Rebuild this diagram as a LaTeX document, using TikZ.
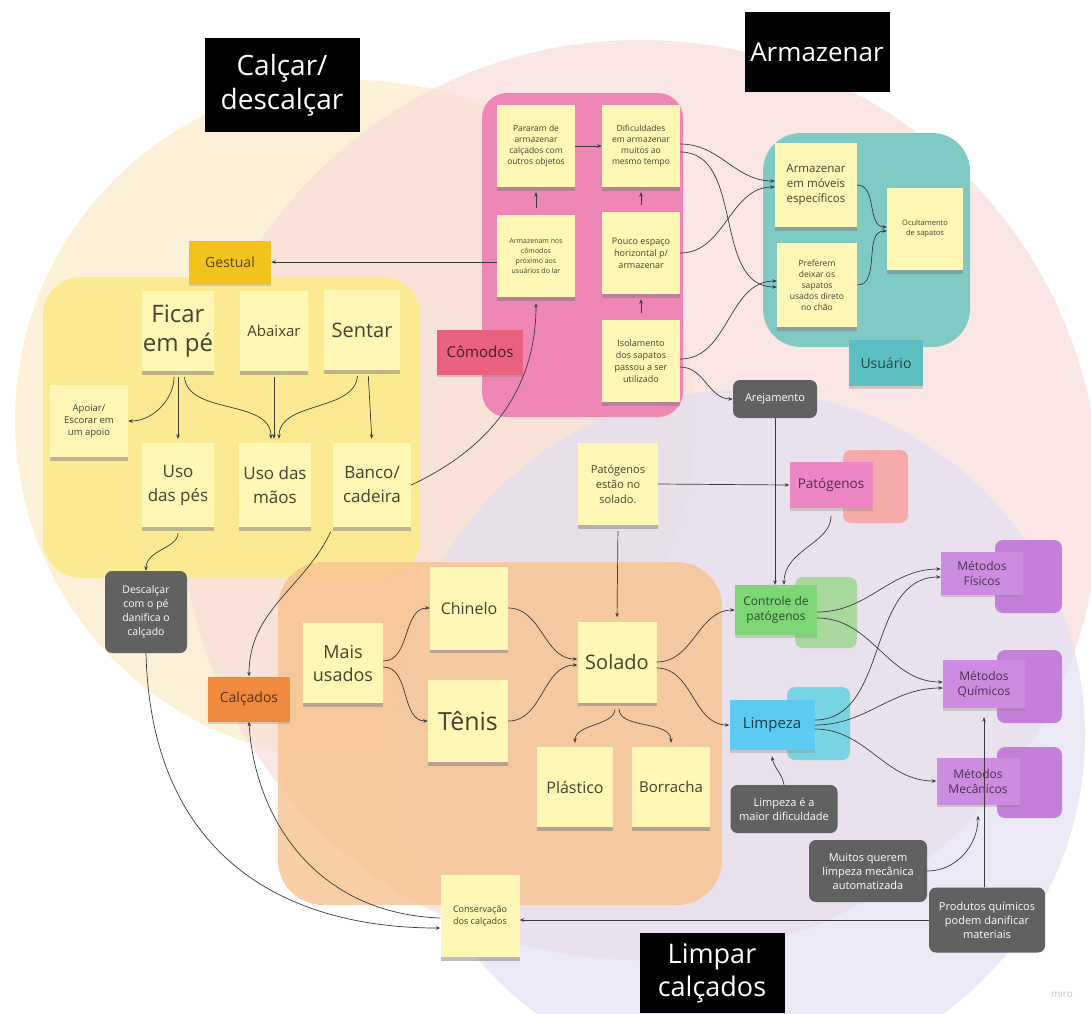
\documentclass[tikz,border=0pt]{standalone}
\usepackage{fontspec}
\setmainfont{Open Sans}
\usetikzlibrary{shadows,arrows.meta}
\definecolor{circY}{HTML}{FCF1D6}
\definecolor{circP}{HTML}{F8DCDA}
\definecolor{circL}{HTML}{E2E0F1}
\definecolor{stickyY}{HTML}{FEF7B6}
\definecolor{stickyT}{HTML}{45432F}
\definecolor{greyN}{HTML}{616161}
\definecolor{comG}{HTML}{EE86B6}
\definecolor{comL}{HTML}{E8617E}
\definecolor{usuG}{HTML}{7FCAC4}
\definecolor{usuL}{HTML}{5CC0C3}
\definecolor{calG}{HTML}{FCEA92}
\definecolor{gestL}{HTML}{F1C31C}
\definecolor{solG}{HTML}{F7C28E}
\definecolor{calcL}{HTML}{F08B3D}
\definecolor{patF}{HTML}{EE86C6}
\definecolor{patB}{HTML}{F3AAA8}
\definecolor{ctrlF}{HTML}{7ED677}
\definecolor{ctrlB}{HTML}{A9D89D}
\definecolor{limpF}{HTML}{5CCBF2}
\definecolor{limpB}{HTML}{78D4E2}
\definecolor{metF}{HTML}{CC8DE0}
\definecolor{metB}{HTML}{C47FDA}
\definecolor{lineC}{HTML}{3A3A3A}
\newcommand\fz[2]{\fontsize{#1}{#2}\selectfont}
\begin{document}
\begin{tikzpicture}[x=1pt,y=-1pt,
 sticky/.style={fill=stickyY, text=stickyT, align=center, inner sep=1pt,
   drop shadow={shadow xshift=0pt,shadow yshift=-3.5pt,opacity=0.5}},
 greynote/.style={fill=greyN, text=white, rounded corners=7pt, align=center, inner sep=2pt},
 tag/.style={align=center, inner sep=1pt,
   drop shadow={shadow xshift=0pt,shadow yshift=-2.5pt,opacity=0.3}},
 titlebox/.style={fill=black, text=white, align=center, inner sep=2pt},
 arr/.style={draw=lineC, line width=0.7pt, -{Stealth[length=4.5pt,width=3.5pt]}},
]
\useasboundingbox (0,0) rectangle (1091,1013);
\fill[white] (0,0) rectangle (1091,1013);
% Venn circles
\fill[circY] (355,420) circle (340pt);
\fill[circP, fill opacity=0.7] (640,500) circle (460pt);
\fill[circL, fill opacity=0.7] (740,735) circle (345pt);

% groups
\fill[comG, rounded corners=25pt] (482,93) rectangle (683,417);
\fill[usuG, rounded corners=38pt] (763,133) rectangle (970,347);
\fill[calG, rounded corners=38pt] (43,277) rectangle (420,578);
\fill[solG, fill opacity=0.8, rounded corners=45pt] (278,562) rectangle (722,905);
\fill[patB, rounded corners=8pt] (843,450) rectangle (908,523);
\fill[ctrlB, rounded corners=8pt] (795,577) rectangle (857,648);
\fill[limpB, rounded corners=8pt] (787,687) rectangle (850,760);
\fill[metB, rounded corners=8pt] (995,540) rectangle (1062,613);
\fill[metB, rounded corners=8pt] (997,650) rectangle (1062,723);
\fill[metB, rounded corners=8pt] (997,747) rectangle (1062,818);

% titles
\node[titlebox, minimum width=155pt, minimum height=94pt, font=\fz{28pt}{34pt}] (tCalcar) at (282,85) {Calçar/\\descalçar};
\node[titlebox, minimum width=145pt, minimum height=80pt, font=\fz{26pt}{30pt}] (tArm) at (817,52) {Armazenar};
\node[titlebox, minimum width=145pt, minimum height=80pt, font=\fz{27pt}{33pt}] (tLimp) at (712,973) {Limpar\\calçados};

% Cômodos
\node[tag, fill=comL, text=comL!30!black, minimum width=86pt, minimum height=45pt, font=\fz{15pt}{18pt}] (lCom) at (480,352) {Cômodos};
\node[sticky, minimum width=78pt, minimum height=82pt, font=\fz{8.5pt}{11pt}] (sPararam) at (536,146) {Pararam de\\armazenar\\calçados com\\outros objetos};
\node[sticky, minimum width=78pt, minimum height=82pt, font=\fz{8.5pt}{11pt}] (sDific) at (641,146) {Dificuldades\\em armazenar\\muitos ao\\mesmo tempo};
\node[sticky, minimum width=78pt, minimum height=82pt, font=\fz{7pt}{10pt}] (sArmaz) at (536,256) {Armazenam nos\\cômodos\\próximo aos\\usuários do lar};
\node[sticky, minimum width=78pt, minimum height=82pt, font=\fz{9pt}{12pt}] (sPouco) at (641,253) {Pouco espaço\\horizontal p/\\armazenar};
\node[sticky, minimum width=78pt, minimum height=82pt, font=\fz{9pt}{12pt}] (sIsol) at (641,361) {Isolamento\\dos sapatos\\passou a ser\\utilizado};

% Usuário
\node[tag, fill=usuL, text=usuL!35!black, minimum width=74pt, minimum height=46pt, font=\fz{14pt}{17pt}] (lUsu) at (886,363) {Usuário};
\node[sticky, minimum width=82pt, minimum height=84pt, font=\fz{11.5pt}{15pt}] (sMoveis) at (816,185) {Armazenar\\em móveis\\específicos};
\node[sticky, minimum width=80pt, minimum height=84pt, font=\fz{8.5pt}{11pt}] (sPrefer) at (817,285) {Preferem\\deixar os\\sapatos\\usados direto\\no chão};
\node[sticky, minimum width=76pt, minimum height=82pt, font=\fz{7.5pt}{10pt}] (sOcult) at (925,229) {Ocultamento\\de sapatos};

% Calçar/descalçar
\node[tag, fill=gestL, text=gestL!35!black, minimum width=82pt, minimum height=43pt, font=\fz{14pt}{17pt}] (lGest) at (230,262) {Gestual};
\node[sticky, minimum width=72pt, minimum height=80pt, font=\fz{24pt}{29pt}] (sFicar) at (178,331) {Ficar\\em pé};
\node[sticky, minimum width=68pt, minimum height=80pt, font=\fz{15pt}{18pt}] (sAbaixar) at (274,331) {Abaixar};
\node[sticky, minimum width=76pt, minimum height=80pt, font=\fz{20pt}{24pt}] (sSentar) at (362,330) {Sentar};
\node[sticky, minimum width=78pt, minimum height=72pt, font=\fz{9.5pt}{12pt}] (sApoiar) at (89,421) {Apoiar/\\Escorar em\\um apoio};
\node[sticky, minimum width=72pt, minimum height=84pt, font=\fz{17pt}{24pt}] (sUsoPes) at (178,485) {Uso\\das pés};
\node[sticky, minimum width=72pt, minimum height=84pt, font=\fz{17pt}{24pt}] (sUsoMaos) at (275,485) {Uso das\\mãos};
\node[sticky, minimum width=78pt, minimum height=84pt, font=\fz{17pt}{24pt}] (sBanco) at (372,485) {Banco/\\cadeira};
\node[greynote, minimum width=82pt, minimum height=82pt, font=\fz{10.5pt}{14pt}] (gDesc) at (146,612) {Descalçar\\com o pé\\danifica o\\calçado};

% Solado group
\node[tag, fill=calcL, text=calcL!35!black, minimum width=82pt, minimum height=45pt, font=\fz{14pt}{17pt}] (lCalc) at (249,699) {Calçados};
\node[sticky, minimum width=80pt, minimum height=80pt, font=\fz{18pt}{23pt}] (sMais) at (343,663) {Mais\\usados};
\node[sticky, minimum width=78pt, minimum height=83pt, font=\fz{16pt}{19pt}] (sChin) at (469,608) {Chinelo};
\node[sticky, minimum width=80pt, minimum height=82pt, font=\fz{25pt}{29pt}] (sTenis) at (468,721) {Tênis};
\node[sticky, minimum width=79pt, minimum height=81pt, font=\fz{20pt}{24pt}] (sSolado) at (617,662) {Solado};
\node[sticky, minimum width=76pt, minimum height=80pt, font=\fz{16pt}{19pt}] (sPlast) at (575,787) {Plástico};
\node[sticky, minimum width=78pt, minimum height=80pt, font=\fz{15pt}{18pt}] (sBorr) at (671,787) {Borracha};

% Limpar
\node[sticky, minimum width=80pt, minimum height=82pt, font=\fz{11pt}{15pt}] (sPatEst) at (618,484) {Patógenos\\estão no\\solado.};
\node[greynote, minimum width=84pt, minimum height=38pt, font=\fz{11pt}{13pt}] (nArej) at (775,399) {Arejamento};
\node[tag, fill=patF, text=patF!35!black, minimum width=83pt, minimum height=46pt, font=\fz{13.5pt}{16pt}] (nPat) at (831,485) {Patógenos};
\node[tag, fill=ctrlF, text=ctrlF!35!black, minimum width=82pt, minimum height=50pt, font=\fz{12pt}{15pt}] (nCtrl) at (776,610) {Controle de\\patógenos};
\node[tag, fill=limpF, text=limpF!30!black, minimum width=85pt, minimum height=50pt, font=\fz{15pt}{18pt}] (nLimp) at (772,725) {Limpeza};
\node[tag, fill=metF, text=metF!35!black, minimum width=82pt, minimum height=43pt, font=\fz{12pt}{15pt}] (nFis) at (982,573) {Métodos\\Físicos};
\node[tag, fill=metF, text=metF!35!black, minimum width=82pt, minimum height=48pt, font=\fz{12pt}{15pt}] (nQuim) at (984,684) {Métodos\\Químicos};
\node[tag, fill=metF, text=metF!35!black, minimum width=83pt, minimum height=47pt, font=\fz{12pt}{15pt}] (nMec) at (978,781) {Métodos\\Mecânicos};
\node[greynote, minimum width=107pt, minimum height=48pt, font=\fz{11pt}{14pt}] (nLimpDif) at (784,809) {Limpeza é a\\maior dificuldade};
\node[greynote, minimum width=118pt, minimum height=62pt, font=\fz{11pt}{14pt}] (nMuitos) at (868,871) {Muitos querem\\limpeza mecânica\\automatizada};
\node[greynote, minimum width=116pt, minimum height=65pt, font=\fz{11pt}{14pt}] (nProd) at (987,920) {Produtos químicos\\podem danificar\\materiais};
\node[sticky, minimum width=79pt, minimum height=82pt, font=\fz{9pt}{12pt}] (sConserv) at (480,916) {Conservação\\dos calçados};
\node[text=black!22, font=\fz{10pt}{12pt}] (miro) at (1062,994) {miro};

% connectors: Cômodos
\draw[arr] (sArmaz.west |- lGest) -- (lGest.east);
\draw[arr, shorten <=7pt, shorten >=5pt] (sArmaz.north) -- (sPararam.south);
\draw[arr] (sPararam.east) -- (sDific.west);
\draw[arr, shorten <=7pt, shorten >=5pt] (sPouco.north) -- (sDific.south);
\draw[arr, shorten <=7pt, shorten >=5pt] (sIsol.north) -- (sPouco.south);
\draw[arr] ([yshift=2pt]sDific.east) to[out=0,in=180] ([yshift=4pt]sMoveis.west);
\draw[arr] ([yshift=-6pt]sDific.east) to[out=0,in=180] ([yshift=-2pt]sPrefer.west);
\draw[arr] (sPouco.east) to[out=0,in=180] ([yshift=-2pt]sMoveis.west);
\draw[arr] ([yshift=2pt]sIsol.east) to[out=0,in=180] ([yshift=4pt]sPrefer.west);
\draw[arr] ([yshift=-6pt]sIsol.east) to[out=0,in=180] (nArej.west);
\draw[arr] (sMoveis.east) to[out=0,in=180] ([yshift=2pt]sOcult.west);
\draw[arr] (sPrefer.east) to[out=0,in=180] ([yshift=-2pt]sOcult.west);
\draw[arr] (sBanco.east) to[out=25,in=-90] ([yshift=-6pt]sArmaz.south);

% connectors: Calçar
\draw[arr, shorten <=6pt] ([xshift=-4pt]sFicar.south) to[out=-90,in=0] (sApoiar.east);
\draw[arr, shorten <=6pt, shorten >=4pt] (sFicar.south) -- (sUsoPes.north);
\draw[arr, shorten <=6pt, shorten >=4pt] ([xshift=6pt]sFicar.south) to[out=-85,in=90] ([xshift=-4pt]sUsoMaos.north);
\draw[arr, shorten <=6pt, shorten >=4pt] (sAbaixar.south) -- (sAbaixar.south |- sUsoMaos.north);
\draw[arr, shorten <=6pt, shorten >=4pt] ([xshift=-4pt]sSentar.south) to[out=-95,in=90] ([xshift=4pt]sUsoMaos.north);
\draw[arr, shorten <=6pt, shorten >=4pt] ([xshift=6pt]sSentar.south) -- (sBanco.north);
\draw[arr, shorten <=6pt] (sUsoPes.south) to[out=-90,in=90] (gDesc.north);
\draw[arr, shorten <=5pt] (sBanco.south west) to[out=-115,in=90] (lCalc.north);
\draw[arr] (gDesc.south) .. controls +(5,200) and +(-160,0) .. ([yshift=-12pt]sConserv.west);
\draw[arr] ([yshift=-2pt]sConserv.west) .. controls +(-130,-5) and +(5,90) .. (lCalc.south);

% connectors: Solado
\draw[arr] ([yshift=2pt]sMais.east) to[out=0,in=180] (sChin.west);
\draw[arr] ([yshift=-4pt]sMais.east) to[out=0,in=180] (sTenis.west);
\draw[arr] (sChin.east) to[out=0,in=180] ([yshift=3pt]sSolado.west);
\draw[arr] (sTenis.east) to[out=0,in=180] ([yshift=-3pt]sSolado.west);
\draw[arr, shorten <=6pt, shorten >=4pt] ([xshift=-2pt]sSolado.south) to[out=-90,in=90] (sPlast.north);
\draw[arr, shorten <=6pt, shorten >=4pt] ([xshift=2pt]sSolado.south) to[out=-90,in=90] (sBorr.north);
\draw[arr] (sSolado.east) to[out=0,in=180] (nCtrl.west);
\draw[arr] ([yshift=-6pt]sSolado.east) to[out=0,in=180] (nLimp.west);

% connectors: Limpar
\draw[arr] (sPatEst.east) -- (nPat.west);
\draw[arr, shorten <=6pt, shorten >=4pt] (sPatEst.south) -- (sSolado.north);
\draw[arr] (nArej.south) -- (nArej.south |- nCtrl.north);
\draw[arr, shorten <=8pt] (nPat.south) to[out=-90,in=90] ([xshift=8pt]nCtrl.north);
\draw[arr] ([yshift=-2pt]nCtrl.east) to[out=0,in=180] ([yshift=4pt]nFis.west);
\draw[arr] ([yshift=-8pt]nCtrl.east) to[out=0,in=180] ([yshift=2pt]nQuim.west);
\draw[arr] ([yshift=5pt]nLimp.east) to[out=0,in=180] ([yshift=-4pt]nFis.west);
\draw[arr] (nLimp.east) to[out=0,in=180] ([yshift=-4pt]nQuim.west);
\draw[arr] ([yshift=-4pt]nLimp.east) to[out=0,in=180] (nMec.west);
\draw[arr] (nLimpDif.north) to[out=100,in=-80] ([yshift=-6pt]nLimp.south);
\draw[arr] (nMuitos.east) to[out=0,in=-90] ([yshift=-11pt]nMec.south);
\draw[arr] (nQuim.south |- nProd.north) -- ([yshift=-9pt]nQuim.south);
\draw[arr] (nProd.west) -- (nProd.west -| sConserv.east);
\end{tikzpicture}
\end{document}
